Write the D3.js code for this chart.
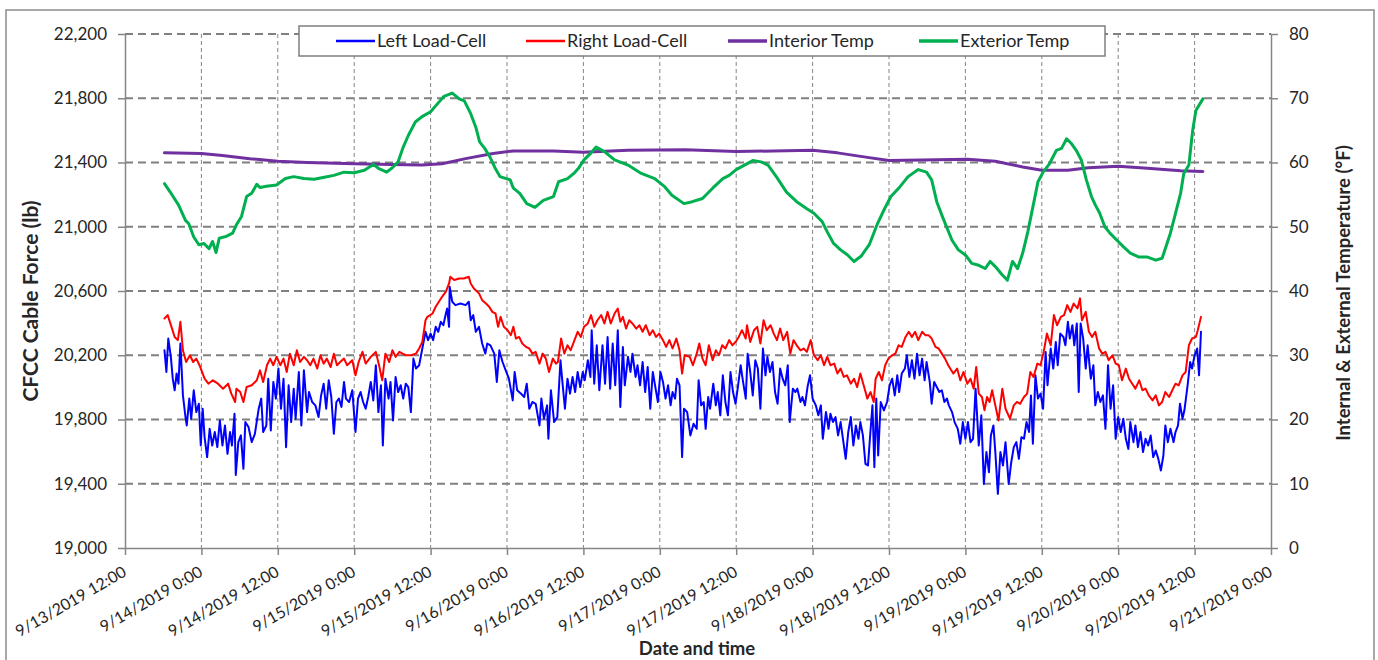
<!DOCTYPE html>
<html><head><meta charset="utf-8">
<script src="https://cdnjs.cloudflare.com/ajax/libs/d3/7.8.5/d3.min.js"></script>
<style>
body{margin:0;background:#fff}
svg{display:block}
text{font-family:Lato,"Open Sans",sans-serif;fill:#262626}
</style>
</head><body>
<svg id="chart" width="1378" height="660"></svg>
<script>
// ---- data (hours since 9/13/2019 12:00) ----
const seriesNames = ["Left Load-Cell", "Right Load-Cell", "Interior Temp", "Exterior Temp"];
const xAxisTitle = "Date and time";
const yLeftTitle = "CFCC Cable Force (lb)";
const yRightTitle = "Internal & External Temperature (°F)";
const leftTicks = [19000, 19400, 19800, 20200, 20600, 21000, 21400, 21800, 22200];
const rightTicks = [0, 10, 20, 30, 40, 50, 60, 70, 80];
const xStart = [2019, 8, 13, 12];
const xSpanHours = 180;
const xTickStepHours = 12;

const leftHours = [6.2,6.5,6.8,7.2,7.5,7.8,8.1,8.4,8.7,9.1,9.5,9.7,10.1,10.4,10.8,11.2,11.6,11.9,12.2,12.5,12.9,13.3,13.7,14.1,14.5,14.9,15.3,15.7,16.1,16.5,16.8,17.2,17.4,17.8,18.2,18.6,18.9,19.4,19.9,20.4,21.0,21.4,21.7,22.2,22.5,22.9,23.3,23.7,24.1,24.5,24.9,25.3,25.7,26.1,26.5,26.8,27.3,27.7,28.1,28.6,28.9,29.4,29.9,30.4,30.8,31.2,31.6,32.0,32.4,32.8,33.2,33.6,34.0,34.4,34.7,35.2,35.7,36.2,36.6,37.0,37.4,37.8,38.2,38.6,39.0,39.4,39.8,40.2,40.5,40.9,41.4,41.7,42.1,42.5,42.9,43.3,43.7,44.1,44.5,44.9,45.3,45.7,46.2,46.7,47.2,
47.6,48.0,48.4,48.8,49.2,49.6,50.0,50.4,50.6,50.9,51.0,51.4,51.9,52.7,53.5,54.0,54.3,54.7,55.1,55.6,56.1,56.6,56.9,57.4,58.0,58.4,58.8,59.3,59.8,60.3,60.9,61.2,61.6,62.2,62.7,63.1,63.5,64.0,64.5,65.1,65.4,65.8,66.3,66.5,66.9,67.4,67.9,68.4,68.7,69.1,69.5,69.9,70.3,70.7,71.1,71.5,71.9,72.2,72.7,73.1,73.3,73.7,74.1,74.5,75.0,75.4,75.8,76.2,76.6,77.0,77.4,77.8,78.2,78.5,79.0,79.4,79.7,80.2,80.5,80.9,81.3,81.7,82.1,82.5,82.9,83.3,83.7,84.1,84.5,84.9,85.3,85.7,86.0,86.4,86.7,87.1,87.5,87.8,88.3,88.8,
89.3,89.8,90.1,90.5,90.9,91.2,91.6,91.9,92.4,92.8,93.1,93.5,93.9,94.3,94.7,95.1,95.5,95.9,96.3,96.7,97.0,97.5,97.8,98.2,98.6,99.0,99.4,99.8,100.2,100.6,100.9,101.3,101.7,102.1,102.5,102.9,103.3,103.7,104.1,104.4,104.9,105.3,105.6,106.1,106.4,106.8,107.2,107.6,108.0,108.5,108.9,109.3,109.6,110.1,110.5,110.8,111.2,111.6,112.0,112.4,112.8,113.2,113.6,114.0,114.4,114.8,115.2,115.5,115.9,116.3,116.7,117.0,117.4,117.7,118.0,118.3,118.7,119.2,119.7,120.1,120.5,120.9,121.3,121.6,122.0,122.5,122.8,123.2,123.6,124.0,124.4,124.8,125.2,125.6,125.9,126.4,126.7,127.1,127.5,127.9,128.3,128.7,129.1,129.4,129.9,130.3,
130.8,131.2,131.6,132.0,132.4,132.8,133.2,133.6,134.1,134.5,134.9,135.3,135.7,136.0,136.4,136.7,137.1,137.5,137.9,138.3,138.8,139.2,139.6,140.0,140.4,140.8,141.2,141.6,142.0,142.3,142.6,143.0,143.4,143.8,144.2,144.6,144.9,145.4,145.8,146.2,146.5,146.9,147.4,147.7,148.1,148.4,148.8,149.1,149.5,149.8,150.1,150.5,150.9,151.2,151.7,152.1,152.4,152.8,153.2,153.6,154.0,154.4,154.8,155.2,155.6,156.0,156.4,156.8,157.2,157.6,157.9,158.4,158.7,159.1,159.5,159.9,160.3,160.7,161.1,161.5,161.9,162.3,162.7,163.1,163.4,163.8,164.2,164.7,165.0,165.4,165.7,166.1,166.4,166.9,167.3,167.6,168.0,168.4,168.7,169.0];
const leftLoad = [20231,20096,20304,20190,20054,19982,20086,20023,20273,19950,19815,19763,19930,19805,19982,19846,19898,19638,19867,19690,19566,19742,19638,19722,19628,19794,19638,19763,19586,19722,19638,19836,19455,19659,19701,19493,19784,19753,19659,19711,19867,19930,19722,19763,20054,19732,20034,19930,20117,19867,20054,19628,20013,19784,19992,19805,20096,19763,20106,19846,19971,19909,19888,19815,19950,20023,19867,20044,19940,19711,19909,19930,19878,20034,19930,19909,19982,19722,19930,19971,19909,19867,19940,20034,19919,20138,19846,20013,19638,20054,19930,20034,19794,20065,19971,20013,19930,20023,20002,19846,20179,20117,20138,20242,20346,
20294,20335,20294,20377,20346,20408,20387,20460,20491,20377,20626,20533,20512,20522,20512,20533,20418,20450,20346,20377,20273,20210,20273,20262,20210,20034,20231,20158,20106,20054,19919,20096,19982,19961,19940,20023,19867,19909,19898,19763,19930,19805,19888,19680,19982,19784,19815,20169,20034,19867,20054,19961,20065,19971,20096,20002,20096,20044,20169,20065,20356,20023,20262,19982,20262,20023,20314,19992,20273,20013,20356,19878,20252,20013,20190,20096,20210,20065,20138,20013,20158,19971,20127,19867,20096,20002,19909,20096,20034,19930,20013,19888,19971,19930,20054,20013,19566,19867,19846,19701,
19773,19742,20044,19888,19909,19742,19940,19867,20023,19888,19971,19826,20075,19909,19826,20096,19971,19898,20013,20138,20054,19930,20210,20096,19950,20169,20117,19867,20242,20075,20190,20096,20158,19971,19898,20117,20054,20013,20138,19784,19992,19971,19992,19909,19940,19888,20002,20075,19930,19888,19826,19888,19680,19846,19742,19836,19784,19815,19701,19784,19670,19555,19722,19815,19638,19763,19680,19784,19701,19524,19514,19680,19888,19503,19930,19576,19909,19857,19909,20013,20054,19950,20075,19971,20086,20117,20200,20065,20169,20054,20210,20075,20179,20044,20158,20034,19898,20034,20002,19971,19982,19909,19930,19888,19846,19784,
19742,19649,19784,19680,19784,19659,19680,19992,19638,19826,19399,19597,19472,19701,19763,19597,19337,19597,19514,19659,19399,19534,19628,19659,19555,19690,19680,19784,19722,19950,19649,20075,19930,19961,19867,20221,20013,20242,20117,20283,20138,20335,20314,20262,20408,20304,20387,20262,20398,19971,20398,20304,20117,20262,20054,20138,19888,19971,19909,19950,19742,20138,19867,20013,19680,19815,19722,19805,19680,19617,19784,19659,19763,19628,19722,19597,19680,19638,19701,19566,19607,19555,19482,19576,19763,19659,19742,19659,19722,19763,19898,19805,19857,20013,20158,20117,20200,20242,20075,20346];

const rightHours = [6.2,6.7,7.3,7.8,8.3,8.7,9.1,9.6,10.2,10.7,11.2,11.7,12.5,13.1,13.8,14.6,15.4,16.2,16.7,17.3,17.5,18.1,18.6,19.1,19.9,20.7,21.2,21.7,22.3,22.8,23.3,23.8,24.4,24.9,25.4,25.9,26.5,27.0,27.5,28.1,28.6,29.1,29.6,30.2,30.7,31.2,31.7,32.3,32.8,33.3,33.8,34.4,34.9,35.7,36.2,36.7,37.3,37.8,38.6,39.4,39.9,40.4,40.9,41.5,42.0,42.5,43.1,43.6,44.1,44.9,45.7,46.2,46.7,47.2,
47.5,48.3,48.8,49.3,49.8,50.4,50.9,51.1,51.7,52.5,53.2,54.0,54.3,54.8,55.6,56.1,56.7,57.2,57.7,58.2,58.6,59.0,59.5,60.1,60.6,61.0,61.4,61.9,62.4,63.0,63.5,64.0,64.5,65.1,65.6,66.1,66.6,67.2,67.7,68.0,68.5,69.0,69.5,70.0,70.6,71.1,71.6,72.1,72.7,73.2,73.7,74.2,74.8,75.3,75.8,76.3,76.9,77.4,77.8,78.2,78.7,79.2,79.7,80.3,80.8,81.3,81.8,82.4,82.9,83.4,83.9,84.5,85.0,85.5,86.0,86.6,87.1,87.5,87.9,88.7,
89.2,89.8,90.2,90.7,91.2,91.7,92.3,92.8,93.3,93.8,94.3,94.9,95.4,95.9,96.4,96.9,97.5,97.7,98.2,98.8,99.3,99.8,100.3,100.8,101.4,101.9,102.4,102.9,103.4,104.0,104.5,105.0,105.5,106.1,106.6,107.1,107.7,108.2,108.8,109.3,109.8,110.3,110.8,111.4,111.9,112.4,112.9,113.4,114.0,114.5,115.0,115.5,116.1,116.6,117.1,117.6,117.9,118.4,118.9,119.4,119.9,120.5,121.0,121.5,122.0,122.6,123.1,123.6,124.1,124.6,125.2,125.7,126.2,126.7,127.3,127.8,128.3,128.8,129.3,130.1,
130.7,131.2,131.7,132.3,132.8,133.3,133.7,134.1,134.6,135.0,135.4,135.8,136.2,136.7,137.2,137.8,138.3,139.0,139.6,140.1,140.6,141.2,141.7,142.2,142.7,143.3,143.8,144.3,144.8,145.4,145.9,146.4,147.0,147.5,148.0,148.5,149.0,149.6,150.0,150.3,150.9,151.4,151.9,152.4,153.0,153.5,154.0,154.5,155.1,155.6,156.1,156.6,157.2,157.7,158.2,158.7,159.3,159.8,160.3,160.8,161.4,161.9,162.4,162.9,163.4,164.0,164.5,165.0,165.5,166.1,166.6,167.1,167.6,168.2,168.5,169.0];
const rightLoad = [20429,20450,20377,20314,20294,20408,20231,20158,20200,20158,20179,20138,20054,20023,20044,20023,19992,20023,19961,19909,19992,19971,19909,20002,20013,20044,20106,20034,20138,20179,20138,20190,20138,20179,20096,20210,20138,20231,20158,20190,20169,20138,20179,20117,20200,20148,20179,20127,20210,20138,20158,20179,20138,20169,20075,20158,20221,20148,20190,20221,20138,20044,20210,20158,20231,20190,20221,20210,20200,20200,20210,20242,20283,20418,
20439,20460,20502,20533,20564,20596,20647,20689,20668,20678,20678,20689,20647,20616,20585,20543,20522,20502,20470,20460,20377,20439,20377,20356,20325,20377,20304,20314,20273,20252,20242,20210,20221,20148,20210,20179,20096,20179,20148,20158,20304,20210,20262,20231,20294,20346,20314,20377,20398,20450,20377,20418,20450,20398,20470,20398,20460,20491,20408,20439,20366,20418,20398,20366,20387,20346,20387,20325,20356,20314,20335,20294,20252,20294,20242,20304,20231,20086,20200,20190,
20138,20210,20273,20179,20138,20262,20169,20231,20200,20262,20242,20294,20262,20283,20314,20356,20304,20387,20283,20356,20377,20273,20418,20356,20387,20335,20294,20366,20294,20346,20210,20294,20262,20231,20242,20221,20294,20200,20169,20200,20138,20190,20138,20148,20086,20117,20065,20075,20023,20054,20002,20086,20002,19930,19971,19909,20054,20096,20044,20138,20179,20200,20210,20262,20252,20314,20346,20314,20346,20294,20346,20325,20325,20304,20252,20242,20210,20179,20138,20086,
20117,20044,20096,20023,20054,19992,20127,19961,19940,19857,19940,19909,19982,19888,19794,19992,19867,19805,19888,19909,19898,19940,19961,20096,20065,20148,20138,20221,20335,20262,20450,20387,20439,20450,20512,20470,20522,20491,20554,20418,20470,20346,20314,20346,20242,20210,20221,20169,20200,20148,20138,20044,20117,20054,20023,19992,20044,19982,19992,19950,19919,19950,19888,19909,19971,19940,19982,20023,20013,20075,20096,20262,20304,20314,20356,20439];

const interiorHours = [6.2,12,15.3,19.6,24,28.6,36,41.9,46.6,49.8,53.5,57.8,61,67.3,72,79,88,96,101.8,108,111.9,116.6,120,125.1,132.3,136.7,141,144,148.1,151.3,156,160.6,165.8,169.3];
const interiorTemp = [61.5,61.4,61.1,60.6,60.2,60.0,59.8,59.7,59.6,59.8,60.6,61.4,61.8,61.8,61.6,61.9,62.0,61.7,61.8,61.9,61.5,60.8,60.3,60.4,60.5,60.2,59.3,58.8,58.8,59.2,59.4,59.1,58.7,58.6];

const exteriorHours = [6.2,7.1,8.4,9.5,10.0,10.8,11.6,12.4,13.2,13.75,14.3,14.8,15.9,16.9,17.5,18.3,19.1,19.9,20.7,21.2,22.2,23.8,25.2,26.5,28.1,29.7,31.3,32.8,34.4,36.0,37.6,39.0,39.8,41.1,41.9,42.9,43.7,44.5,45.6,46.6,48.0,49.3,50.1,51.4,52.5,53.3,54.3,55.1,55.7,56.5,57.3,58.1,58.9,60.5,61.0,62.0,63.1,64.4,65.7,67.3,68.1,69.5,70.5,71.3,72.1,73.2,74.0,75.3,76.9,79.0,81.1,83.2,84.8,85.9,87.8,
89.1,90.7,92.3,93.9,94.9,96.0,97.3,98.6,99.9,101.0,102.3,103.9,105.5,107.1,108.2,109.5,110.3,111.3,112.4,113.5,114.5,115.6,116.9,118.2,119.3,120.3,121.7,123.0,124.6,125.9,126.7,127.5,128.5,129.9,130.9,132.0,133.0,134.1,135.1,135.9,136.7,137.8,138.6,139.4,140.2,141.0,141.8,142.6,143.4,144.2,145.2,146.3,147.1,147.9,148.6,149.4,150.2,151.0,151.8,152.4,153.1,153.9,154.7,155.8,156.8,157.9,159.2,160.5,161.9,162.9,163.5,164.2,165.0,165.8,166.3,167.1,167.7,168.2,169.3];
const exteriorTemp = [56.7,55.4,53.4,51.0,50.5,48.4,47.2,47.4,46.6,47.7,46.0,48.2,48.5,49.0,50.3,51.6,54.7,55.2,56.6,56.1,56.3,56.5,57.5,57.8,57.5,57.4,57.7,58.0,58.5,58.4,58.8,59.7,59.1,58.5,59.1,60.1,62.4,64.2,66.3,67.1,67.9,69.4,70.3,70.8,69.9,69.6,67.6,65.5,63.2,62.2,60.9,59.2,57.8,57.3,56.0,55.2,53.6,53.0,54.1,54.7,57.0,57.5,58.3,59.2,60.4,61.5,62.4,61.7,60.4,59.6,58.3,57.5,56.2,54.9,53.6,
53.9,54.4,56.0,57.5,58.0,58.9,59.6,60.3,60.1,59.6,57.8,55.4,53.9,52.8,52.1,50.8,49.2,47.4,46.4,45.6,44.6,45.4,47.2,50.5,52.8,54.7,56.2,57.8,58.9,58.5,57.3,53.9,51.3,47.9,46.4,45.6,44.3,44.0,43.5,44.6,43.8,42.5,41.7,44.6,43.5,45.9,49.2,53.1,57.0,58.5,59.8,61.9,62.2,63.7,63.0,61.9,60.4,57.3,54.7,53.4,52.1,50.0,49.0,47.9,46.9,45.9,45.3,45.3,44.8,45.1,46.9,49.0,52.1,55.2,58.3,59.6,65.0,68.1,69.9];

// ---- chart ----
const colors = ["#0000FF", "#FF0000", "#7030A0", "#00B050"];
const widths = [2, 2, 3, 3];
const svg = d3.select("#chart");
const W = 1378, H = 660;
const plot = {left: 125, right: 1271, top: 34, bottom: 548};

const base = new Date(xStart[0], xStart[1], xStart[2], xStart[3]);
const toDate = h => new Date(base.getTime() + h * 3600e3);

const x = d3.scaleTime().domain([base, toDate(xSpanHours)]).range([plot.left, plot.right]);
const yL = d3.scaleLinear().domain([leftTicks[0], leftTicks[leftTicks.length - 1]]).range([plot.bottom, plot.top]);
const yR = d3.scaleLinear().domain([rightTicks[0], rightTicks[rightTicks.length - 1]]).range([plot.bottom, plot.top]);
const xTickDates = d3.range(0, xSpanHours + 1, xTickStepHours).map(toDate);
const fmt = d3.timeFormat("%-m/%-d/%Y %-H:%M");

svg.append("rect").attr("width", W).attr("height", H).attr("fill", "#fff");
svg.append("rect").attr("x", 6).attr("y", 10).attr("width", 1368).attr("height", 700)
  .attr("fill", "none").attr("stroke", "#8c8c8c").attr("stroke-width", 1.5);

// gridlines
svg.append("g").selectAll("line").data(leftTicks.slice(1)).join("line")
  .attr("x1", plot.left).attr("x2", plot.right)
  .attr("y1", d => yL(d)).attr("y2", d => yL(d))
  .attr("stroke", "#808080").attr("stroke-width", 2).attr("stroke-dasharray", "8,5");
svg.append("g").selectAll("line").data(xTickDates.slice(1, -1)).join("line")
  .attr("x1", d => x(d)).attr("x2", d => x(d))
  .attr("y1", plot.top).attr("y2", plot.bottom)
  .attr("stroke", "#858585").attr("stroke-width", 1).attr("stroke-dasharray", "4,3");

// axes
function styleAxis(g, size) {
  g.selectAll(".domain").attr("stroke", "#868686").attr("stroke-width", 1.5);
  g.selectAll(".tick line").attr("stroke", "#868686").attr("stroke-width", 1.5);
  g.selectAll("text").attr("font-family", "Lato").attr("font-size", size).attr("fill", "#262626");
}
const gx = svg.append("g").attr("transform", `translate(0,${plot.bottom})`)
  .call(d3.axisBottom(x).tickValues(xTickDates).tickFormat(fmt).tickSize(7).tickSizeOuter(0));
styleAxis(gx, 16);
gx.selectAll(".tick text").attr("x", 0).attr("y", 0).attr("dy", 0)
  .attr("text-anchor", "end").attr("transform", "translate(2,27) rotate(-30)");

const gl = svg.append("g").attr("transform", `translate(${plot.left},0)`)
  .call(d3.axisLeft(yL).tickValues(leftTicks).tickFormat(d3.format(",")).tickSize(7).tickPadding(11).tickSizeOuter(0));
styleAxis(gl, 17);
const gr = svg.append("g").attr("transform", `translate(${plot.right},0)`)
  .call(d3.axisRight(yR).tickValues(rightTicks).tickSize(7).tickPadding(11).tickSizeOuter(0));
styleAxis(gr, 17);

// series
svg.append("clipPath").attr("id", "clip").append("rect")
  .attr("x", plot.left).attr("y", plot.top).attr("width", plot.right - plot.left).attr("height", plot.bottom - plot.top);
const series = [
  {h: leftHours, v: leftLoad, y: yL},
  {h: rightHours, v: rightLoad, y: yL},
  {h: interiorHours, v: interiorTemp, y: yR},
  {h: exteriorHours, v: exteriorTemp, y: yR}
];
const lines = svg.append("g").attr("clip-path", "url(#clip)");
series.forEach((s, i) => {
  const pts = s.h.map((h, j) => ({t: toDate(h), v: s.v[j]}));
  lines.append("path").datum(pts)
    .attr("d", d3.line().x(d => x(d.t)).y(d => s.y(d.v)))
    .attr("fill", "none").attr("stroke", colors[i]).attr("stroke-width", widths[i])
    .attr("stroke-linejoin", "round").attr("stroke-linecap", "round");
});

// legend
const lg = svg.append("g");
lg.append("rect").attr("x", 299).attr("y", 26).attr("width", 806).attr("height", 30)
  .attr("fill", "#fff").attr("stroke", "#7f7f7f").attr("stroke-width", 1.5);
const legendX = [336, 526, 728, 919];
seriesNames.forEach((n, i) => {
  lg.append("line").attr("x1", legendX[i]).attr("x2", legendX[i] + 39).attr("y1", 41).attr("y2", 41)
    .attr("stroke", colors[i]).attr("stroke-width", widths[i] === 3 ? 3.5 : 2.5);
  lg.append("text").attr("x", legendX[i] + 41).attr("y", 41).attr("dy", "0.35em")
    .attr("font-size", 18).text(n);
});

// titles
svg.append("text").attr("x", 697).attr("y", 655).attr("text-anchor", "middle")
  .attr("font-weight", "bold").attr("font-size", 18.5).text(xAxisTitle);
svg.append("text").attr("transform", "translate(38,301) rotate(-90)").attr("text-anchor", "middle")
  .attr("font-weight", "bold").attr("font-size", 21).text(yLeftTitle);
svg.append("text").attr("transform", "translate(1350,293) rotate(-90)").attr("text-anchor", "middle")
  .attr("font-weight", "bold").attr("font-size", 18.5).text(yRightTitle);
</script>
</body></html>
